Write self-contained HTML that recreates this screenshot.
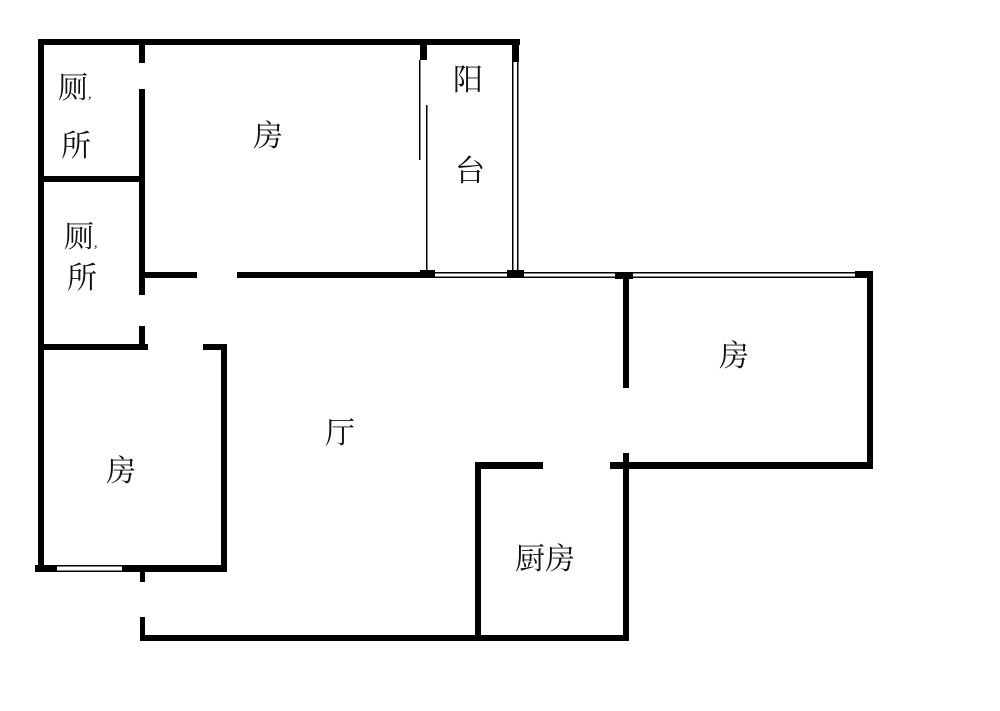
<!DOCTYPE html>
<html><head><meta charset="utf-8"><style>
html,body{margin:0;padding:0;background:#fff;}
svg{display:block;}
text{font-family:"Liberation Serif","Noto Serif CJK SC","Noto Sans CJK SC",serif;font-size:30px;fill:#111;}
</style></head><body>
<svg width="1000" height="711" viewBox="0 0 1000 711" xmlns="http://www.w3.org/2000/svg">
<g fill="#000">
<!-- outer left wall -->
<rect x="38" y="40" width="6" height="532"/>
<!-- top wall -->
<rect x="38" y="39" width="482" height="6"/>
<!-- toilet partition x~142 -->
<rect x="139" y="40" width="6" height="23"/>
<rect x="139" y="89" width="6" height="206"/>
<rect x="139" y="326" width="6" height="20"/>
<!-- toilet divider -->
<rect x="38" y="176" width="104" height="6"/>
<!-- wall y~275 -->
<rect x="142" y="272" width="55" height="6"/>
<rect x="237" y="272" width="185" height="6"/>
<!-- balcony left -->
<rect x="420" y="42" width="7" height="18"/>
<rect x="420" y="270" width="15" height="8"/>
<rect x="419" y="60" width="1.5" height="100"/>
<rect x="426" y="105" width="1.5" height="167"/>
<!-- balcony right -->
<rect x="512" y="42" width="7" height="20"/>
<rect x="512" y="62" width="1.5" height="210"/>
<rect x="517" y="62" width="1.5" height="210"/>
<rect x="507" y="270" width="17" height="8"/>
<!-- windows along y 272-278 -->
<rect x="435" y="272" width="72" height="1.5"/>
<rect x="435" y="276.5" width="72" height="1.5"/>
<rect x="524" y="272" width="91" height="1.5"/>
<rect x="524" y="276.5" width="91" height="1.5"/>
<rect x="615" y="272" width="18" height="7"/>
<rect x="633" y="272" width="222" height="1.5"/>
<rect x="633" y="276.5" width="222" height="1.5"/>
<rect x="855" y="271" width="18" height="7"/>
<!-- right room -->
<rect x="623" y="272" width="6" height="116"/>
<rect x="867" y="271" width="6" height="198"/>
<rect x="610" y="462" width="263" height="7"/>
<rect x="623" y="453" width="6" height="188"/>
<!-- kitchen -->
<rect x="475" y="462" width="68" height="7"/>
<rect x="475" y="462" width="6" height="178"/>
<rect x="140" y="635" width="489" height="6"/>
<rect x="140" y="617" width="5" height="22"/>
<!-- left room -->
<rect x="38" y="344" width="110" height="6"/>
<rect x="203" y="344" width="24" height="6"/>
<rect x="221" y="344" width="6" height="228"/>
<rect x="35" y="565" width="22" height="7"/>
<rect x="57" y="565" width="65" height="1.5"/>
<rect x="57" y="570.5" width="65" height="1.5"/>
<rect x="122" y="565" width="105" height="7"/>
<rect x="140" y="572" width="5" height="10"/>
</g>
<text x="58" y="98">厕<tspan font-size="14">,</tspan></text>
<text x="61" y="156">所</text>
<text x="64" y="247">厕<tspan font-size="14">,</tspan></text>
<text x="67" y="288">所</text>
<text x="253" y="146">房</text>
<text x="453" y="90">阳</text>
<text x="455" y="181">台</text>
<text x="719" y="366">房</text>
<text x="325" y="443">厅</text>
<text x="106" y="481">房</text>
<text x="515" y="569">厨房</text>
</svg>
</body></html>
